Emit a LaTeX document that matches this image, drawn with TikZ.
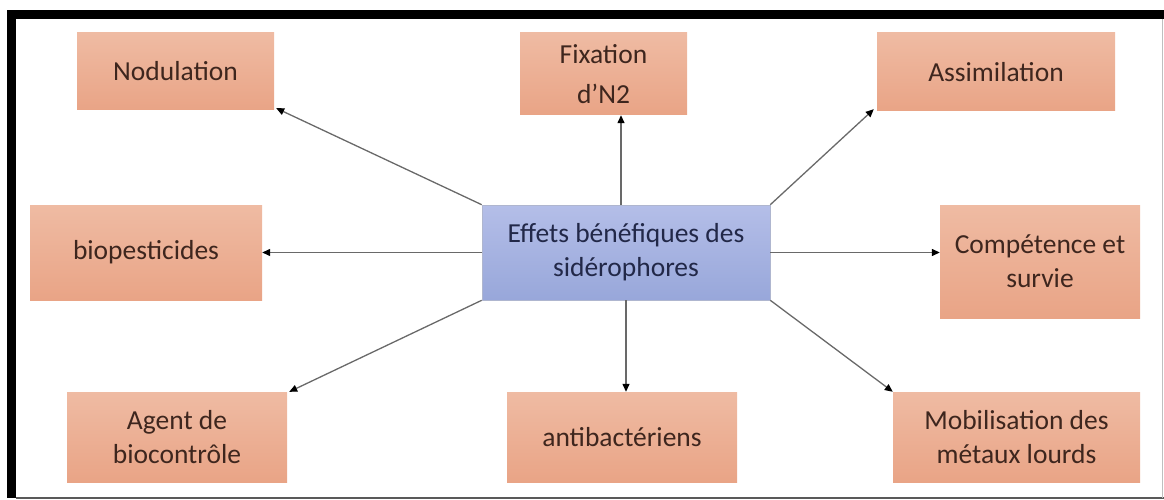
\documentclass[tikz,border=0pt]{standalone}
\usepackage{fontspec}
\setmainfont{Carlito}
\usetikzlibrary{arrows.meta}
\definecolor{orTop}{RGB}{239,187,163}
\definecolor{orBot}{RGB}{233,164,134}
\definecolor{blTop}{RGB}{180,190,232}
\definecolor{blBot}{RGB}{152,167,218}
\definecolor{brownTxt}{RGB}{62,38,30}
\definecolor{navyTxt}{RGB}{34,40,72}
\definecolor{arrowGray}{RGB}{105,105,105}
\tikzset{
  obox/.style={rectangle, inner sep=0pt, top color=orTop, bottom color=orBot,
    text=brownTxt, align=center, font=\fontsize{27.5}{34}\selectfont},
  cbox/.style={rectangle, inner sep=0pt, top color=blTop, bottom color=blBot,
    draw=blBot!80!black!60, line width=0.6pt,
    text=navyTxt, align=center, font=\fontsize{27.5}{34}\selectfont},
  conn/.style={draw=arrowGray, line width=1.3pt, -{Triangle[length=8pt,width=7pt,fill=black,color=black]}}
}
\begin{document}
\begin{tikzpicture}[x=1pt,y=-1pt]
\useasboundingbox (0,0) rectangle (1164,500);
% frame
\fill[black] (7,10) rectangle (1164,19);
\fill[black] (7,10) rectangle (16,498);
\draw[gray!70!black, line width=1.5pt] (16,498) -- (1164,498);
\draw[gray!50, line width=0.8pt] (1162,19) -- (1162,498);
% nodes
\node[cbox, minimum width=288pt, minimum height=95pt] (c) at (626,252.5) {Effets bénéfiques des\\sidérophores};
\node[obox, minimum width=197pt, minimum height=77pt] (nod) at (175.5,71.5) {Nodulation};
\node[obox, minimum width=167pt, minimum height=82pt, font=\fontsize{27.5}{40}\selectfont] (fix) at (603.5,74) {Fixation\\d’N2};
\node[obox, minimum width=238pt, minimum height=78pt] (assim) at (996,72) {Assimilation};
\node[obox, minimum width=232pt, minimum height=95pt] (bio) at (146,252.5) {biopesticides};
\node[obox, minimum width=200pt, minimum height=113pt] (comp) at (1040,261.5) {Compétence et\\survie};
\node[obox, minimum width=220pt, minimum height=90pt] (agent) at (177,437) {Agent de\\biocontrôle};
\node[obox, minimum width=230pt, minimum height=90pt] (ab) at (622,437) {antibactériens};
\node[obox, minimum width=247pt, minimum height=90pt] (mob) at (1016.5,437) {Mobilisation des\\métaux lourds};
% connectors
\draw[conn] (c.north west) -- ([shift={(2pt,2pt)}]nod.south east);
\draw[conn] ([xshift=-5pt]c.north) -- ([xshift=17.5pt]fix.south);
\draw[conn] (c.north east) -- ([shift={(-3pt,2pt)}]assim.south west);
\draw[conn] (c.west) -- (bio.east);
\draw[conn] (c.east) -- (comp.west |- c.east);
\draw[conn] (c.south west) -- ([shift={(2pt,0pt)}]agent.north east);
\draw[conn] (c.south) -- (c.south |- ab.north);
\draw[conn] (c.south east) -- (mob.north west);
\end{tikzpicture}
\end{document}
